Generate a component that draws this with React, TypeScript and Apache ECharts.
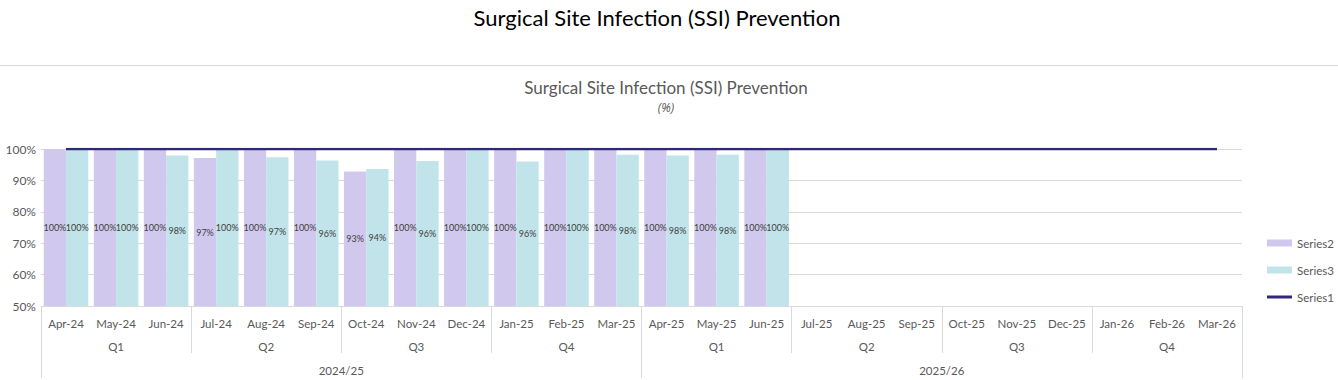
import React, { useEffect, useRef } from "react";
import * as echarts from "echarts";

const months = [
  "Apr-24", "May-24", "Jun-24", "Jul-24", "Aug-24", "Sep-24", "Oct-24", "Nov-24", "Dec-24",
  "Jan-25", "Feb-25", "Mar-25", "Apr-25", "May-25", "Jun-25", "Jul-25", "Aug-25", "Sep-25",
  "Oct-25", "Nov-25", "Dec-25", "Jan-26", "Feb-26", "Mar-26",
];
const quarters = ["Q1", "Q2", "Q3", "Q4", "Q1", "Q2", "Q3", "Q4"];
const years = ["2024/25", "2025/26"];

const series2 = [100, 100, 100, 97.1, 100, 100, 92.8, 100, 100, 100, 100, 100, 100, 100, 100,
  null, null, null, null, null, null, null, null, null];
const series3 = [100, 100, 97.9, 100, 97.4, 96.3, 93.6, 96.2, 100, 96.0, 100, 98.2, 97.9, 98.2, 100,
  null, null, null, null, null, null, null, null, null];
const series1 = [100, 100, 100, 100, 100, 100, 100, 100, 100, 100, 100, 100,
  100, 100, 100, 100, 100, 100, 100, 100, 100, 100, 100, 100];

const yTicks = { min: 50, max: 100, interval: 10 };

const FONT = "Lato, 'Noto Sans', sans-serif";
const GREY = "#595959";
const LINE = "#D9D9D9";

export default function App() {
  const ref = useRef<HTMLDivElement>(null);
  useEffect(() => {
    document.body.style.margin = "0";
    if (!ref.current) return;
    const chart = echarts.init(ref.current, undefined, { renderer: "svg" });
    const labelFmt = (p: any) => (p.value == null ? "" : Math.round(p.value) + "%");
    chart.setOption({
      animation: false,
      textStyle: { fontFamily: FONT },
      graphic: [
        {
          type: "text",
          x: 657,
          y: 17,
          style: {
            text: "Surgical Site Infection (SSI) Prevention",
            align: "center", verticalAlign: "middle",
            fill: "#000", fontSize: 22, fontFamily: FONT,
          },
        },
        {
          type: "line",
          shape: { x1: 0, y1: 65.5, x2: 1338, y2: 65.5 },
          style: { stroke: LINE, lineWidth: 1 },
        },
        {
          type: "text",
          x: 666,
          y: 87,
          style: {
            text: "Surgical Site Infection (SSI) Prevention",
            align: "center", verticalAlign: "middle",
            fill: GREY, fontSize: 17, fontFamily: FONT,
          },
        },
        {
          type: "text",
          x: 666,
          y: 107,
          style: {
            text: "(%)",
            align: "center", verticalAlign: "middle",
            fill: GREY, fontSize: 12, fontStyle: "italic", fontFamily: "'Open Sans', 'Noto Sans', sans-serif",
          },
        },
      ],
      grid: { left: 41, right: 96, top: 149, bottom: 74, containLabel: false },
      legend: {
        orient: "vertical",
        left: 1262,
        top: 232,
        itemWidth: 25,
        itemHeight: 7,
        itemGap: 15,
        textStyle: { color: GREY, fontSize: 11.5, fontFamily: FONT },
        data: [
          { name: "Series2", icon: "rect" },
          { name: "Series3", icon: "rect" },
          { name: "Series1", icon: "path://M0,0H25V3H0Z" },
        ],
      },
      xAxis: [
        {
          type: "category",
          data: months,
          position: "bottom",
          axisLine: { show: true, lineStyle: { color: LINE } },
          axisTick: { show: false },
          axisLabel: { color: GREY, fontSize: 11.5, margin: 11, interval: 0 },
        },
        {
          type: "category",
          data: quarters,
          position: "bottom",
          axisLine: { show: false },
          axisTick: { show: true, length: 47, lineStyle: { color: LINE } },
          axisLabel: { color: GREY, fontSize: 11.5, margin: 34, interval: 0 },
        },
        {
          type: "category",
          data: years,
          position: "bottom",
          axisLine: { show: false },
          axisTick: { show: true, length: 72, lineStyle: { color: LINE } },
          axisLabel: { color: GREY, fontSize: 11.5, margin: 58, interval: 0 },
        },
      ],
      yAxis: {
        type: "value",
        min: yTicks.min,
        max: yTicks.max,
        interval: yTicks.interval,
        axisLine: { show: false },
        axisTick: { show: false },
        axisLabel: { color: GREY, fontSize: 12, margin: 5, formatter: "{value}%" },
        splitLine: { lineStyle: { color: LINE } },
      },
      series: [
        {
          name: "Series2",
          type: "bar",
          data: series2,
          xAxisIndex: 0,
          barGap: "0%",
          barCategoryGap: "11%",
          itemStyle: { color: "#D0C9ED" },
          label: { show: true, position: "inside", fontSize: 9, color: "#404040", formatter: labelFmt },
        },
        {
          name: "Series3",
          type: "bar",
          data: series3,
          xAxisIndex: 0,
          barGap: "0%",
          barCategoryGap: "11%",
          itemStyle: { color: "#C0E4E9" },
          label: { show: true, position: "inside", fontSize: 9, color: "#404040", formatter: labelFmt },
        },
        {
          name: "Series1",
          type: "line",
          data: series1,
          xAxisIndex: 0,
          symbol: "none",
          itemStyle: { color: "#30287A" },
          lineStyle: { color: "#30287A", width: 2.5 },
          z: 5,
        },
      ],
    });
    return () => chart.dispose();
  }, []);
  return <div ref={ref} style={{ width: 1338, height: 380 }} />;
}
